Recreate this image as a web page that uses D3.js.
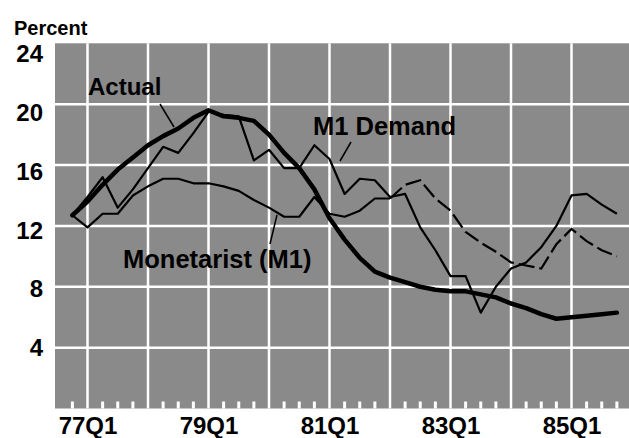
<!DOCTYPE html>
<html>
<head>
<meta charset="utf-8">
<script src="https://cdn.jsdelivr.net/npm/d3@7/dist/d3.min.js"></script>
<style>
  html, body { margin: 0; padding: 0; background: #fff; }
  svg { display: block; }
  text { font-family: "Liberation Sans", Arial, Helvetica, sans-serif; font-weight: bold; fill: #000; }
</style>
</head>
<body>
<div id="chart"></div>
<script>
// ---- data ----
const axisQuarters = ["76Q3","76Q4",
  "77Q1","77Q2","77Q3","77Q4","78Q1","78Q2","78Q3","78Q4",
  "79Q1","79Q2","79Q3","79Q4","80Q1","80Q2","80Q3","80Q4",
  "81Q1","81Q2","81Q3","81Q4","82Q1","82Q2","82Q3","82Q4",
  "83Q1","83Q2","83Q3","83Q4","84Q1","84Q2","84Q3","84Q4",
  "85Q1","85Q2","85Q3","85Q4"];
const quarters = ["76Q4",
  "77Q1","77Q2","77Q3","77Q4","78Q1","78Q2","78Q3","78Q4",
  "79Q1","79Q2","79Q3","79Q4","80Q1","80Q2","80Q3","80Q4",
  "81Q1","81Q2","81Q3","81Q4","82Q1","82Q2","82Q3","82Q4",
  "83Q1","83Q2","83Q3","83Q4","84Q1","84Q2","84Q3","84Q4",
  "85Q1","85Q2","85Q3","85Q4"];
const actual = [12.7,
  13.6,14.7,15.7,16.5, 17.3,17.9,18.4,19.1,
  19.6,19.2,19.1,18.9, 18.0,16.8,15.8,14.4,
  12.5,11.1,9.9,9.0, 8.6,8.3,8.0,7.8,
  7.7,7.7,7.5,7.3, 6.9,6.6,6.2,5.9,
  6.0,6.1,6.2,6.3];
const m1Demand = [12.7,
  13.9,15.2,13.2,14.4, 15.8,17.2,16.8,18.1,
  19.5,19.3,19.2,16.3, 17.0,15.8,15.8,17.3,
  16.4,14.1,15.1,15.0, 13.9,14.1,11.9,10.4,
  8.7,8.7,6.3,8.0, 9.2,9.6,10.6,12.0,
  14.0,14.1,13.4,12.8];
const monetarist = [12.7,
  11.9,12.8,12.8,14.0, 14.6,15.1,15.1,14.8,
  14.8,14.6,14.3,13.7, 13.2,12.6,12.6,13.9,
  12.8,12.6,13.0,13.8, 13.8,14.7,15.0,13.8,
  13.0,11.6,10.9,10.3, 9.6,9.4,9.2,10.8,
  11.8,11.0,10.4,10.0];
const dashFrom = "82Q1";
const xTickLabels = ["77Q1","79Q1","81Q1","83Q1","85Q1"];
const yTicks = [4, 8, 12, 16, 20, 24];
const gridYValues = [4, 8, 12, 16, 20];
const yearLines = ["77Q1","78Q1","79Q1","80Q1","81Q1","82Q1","83Q1","84Q1","85Q1"];

// ---- layout ----
const W = 629, H = 438;
const svg = d3.select("#chart").append("svg").attr("width", W).attr("height", H);

const step = 15.125;
const x = d3.scalePoint().domain(axisQuarters).range([57.25, 57.25 + step * (axisQuarters.length - 1)]);
const y = d3.scaleLinear().domain([0, 24]).range([408.5, 43.3]);
const labelY = d3.scaleLinear().domain([4, 24]).range([347, 53]);

const plotLeft = 55, plotRight = W;

// background
svg.append("rect").attr("x", plotLeft).attr("y", y(24))
  .attr("width", plotRight - plotLeft).attr("height", y(0) - y(24))
  .attr("fill", "#8a8a8a");

// grid
svg.append("g").selectAll("line").data(gridYValues).join("line")
  .attr("x1", plotLeft).attr("x2", plotRight)
  .attr("y1", d => y(d)).attr("y2", d => y(d))
  .attr("stroke", "#fff").attr("stroke-width", 2.5);
svg.append("g").selectAll("line").data(yearLines).join("line")
  .attr("x1", d => x(d)).attr("x2", d => x(d))
  .attr("y1", y(24)).attr("y2", y(0))
  .attr("stroke", "#fff").attr("stroke-width", 2.5);

// quarter notches at bottom
const notchQ = axisQuarters.filter(q => q !== "76Q3" && !q.endsWith("Q1"));
svg.append("g").selectAll("rect").data(notchQ).join("rect")
  .attr("x", d => x(d) - 1.5).attr("width", 3)
  .attr("y", y(0) - 7).attr("height", 7)
  .attr("fill", "#fff");

// y tick labels
const yAxis = d3.axisLeft(labelY).tickValues(yTicks).tickSize(0).tickPadding(0);
const gy = svg.append("g").attr("transform", "translate(43,0)").call(yAxis);
gy.select(".domain").remove();
gy.selectAll("text").attr("font-size", 24).attr("font-family", null).attr("dy", "0.36em").style("fill", "#000");

// x tick labels
const xAxis = d3.axisBottom(x).tickValues(xTickLabels).tickSize(0).tickPadding(0);
const gx = svg.append("g").attr("transform", "translate(0,417)").call(xAxis);
gx.select(".domain").remove();
gx.selectAll("text").attr("font-size", 24).attr("font-family", null).attr("dy", "0.72em").style("fill", "#000");

// Percent title
svg.append("text").attr("x", 14).attr("y", 35).attr("font-size", 20).text("Percent");

// lines
const line = d3.line().x(d => x(d.q)).y(d => y(d.v));
const toPts = arr => quarters.map((q, i) => ({ q, v: arr[i] }));

const monPts = toPts(monetarist);
const di = quarters.indexOf(dashFrom);
svg.append("path").datum(monPts.slice(0, di + 1)).attr("d", line)
  .attr("fill", "none").attr("stroke", "#000").attr("stroke-width", 2.2).attr("stroke-linejoin", "round");
svg.append("path").datum(monPts.slice(di)).attr("d", line)
  .attr("fill", "none").attr("stroke", "#000").attr("stroke-width", 2.2)
  .attr("stroke-dasharray", "16,5");

svg.append("path").datum(toPts(m1Demand)).attr("d", line)
  .attr("fill", "none").attr("stroke", "#000").attr("stroke-width", 2.2).attr("stroke-linejoin", "round");

svg.append("path").datum(toPts(actual)).attr("d", line)
  .attr("fill", "none").attr("stroke", "#000").attr("stroke-width", 4.5)
  .attr("stroke-linejoin", "round").attr("stroke-linecap", "round");

// annotations
svg.append("text").attr("x", 88).attr("y", 95).attr("font-size", 24).text("Actual");
svg.append("line").attr("x1", 160).attr("y1", 104).attr("x2", 174).attr("y2", 127)
  .attr("stroke", "#000").attr("stroke-width", 1.5);

svg.append("text").attr("x", 313).attr("y", 135).attr("font-size", 25.5).text("M1 Demand");
svg.append("line").attr("x1", 351).attr("y1", 142).attr("x2", 340).attr("y2", 161)
  .attr("stroke", "#000").attr("stroke-width", 1.5);

svg.append("text").attr("x", 123).attr("y", 268).attr("font-size", 25.5).text("Monetarist (M1)");
svg.append("line").attr("x1", 270).attr("y1", 244).attr("x2", 277).attr("y2", 215)
  .attr("stroke", "#000").attr("stroke-width", 1.5);
</script>
</body>
</html>
